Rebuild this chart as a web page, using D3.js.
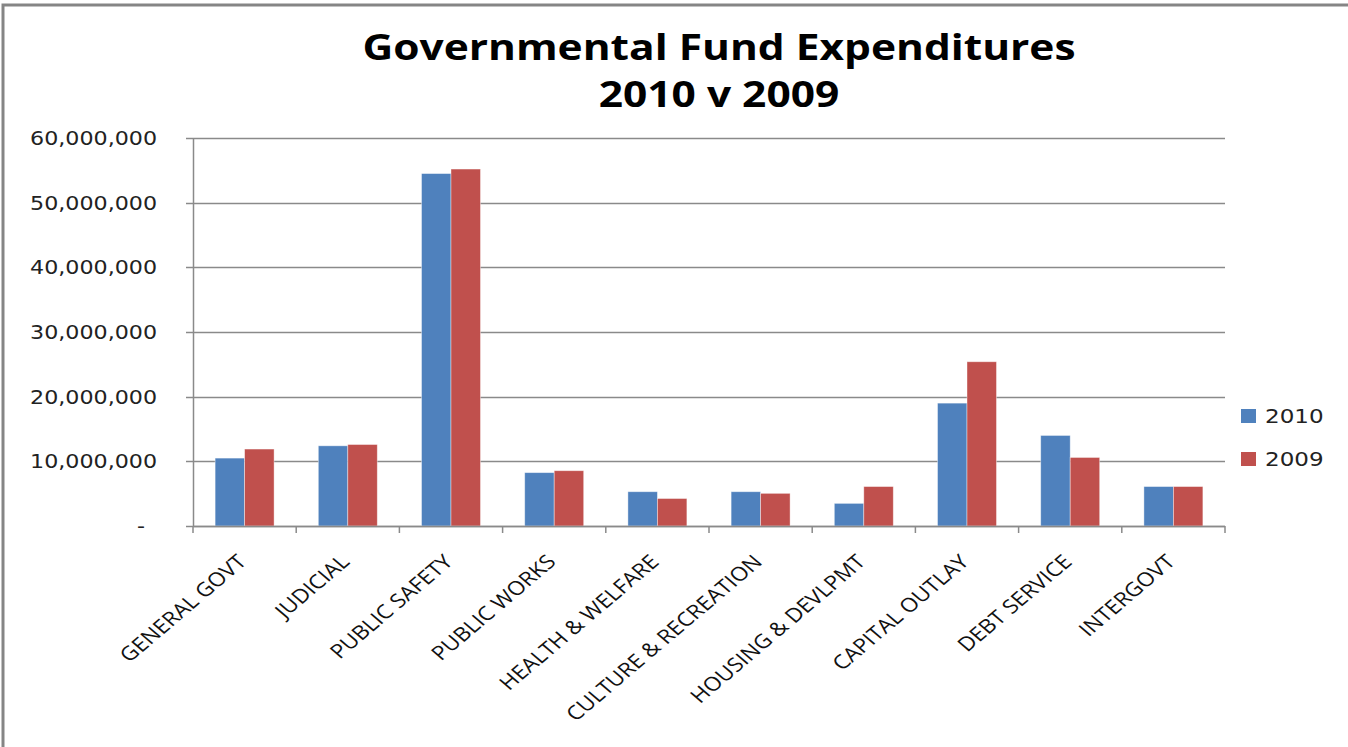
<!DOCTYPE html>
<html>
<head>
<meta charset="utf-8">
<script src="https://cdn.jsdelivr.net/npm/d3@7"></script>
<style>
  body { margin: 0; background: #fff; }
  svg { display: block; }
</style>
</head>
<body>
<div id="chart"></div>
<script>
const width = 1348;
const height = 747;

const categories = ["GENERAL GOVT", "JUDICIAL", "PUBLIC SAFETY", "PUBLIC WORKS", "HEALTH & WELFARE",
    "CULTURE & RECREATION", "HOUSING & DEVLPMT", "CAPITAL OUTLAY", "DEBT SERVICE", "INTERGOVT"];
const values2010 = [10500000, 12400000, 54500000, 8250000, 5300000, 5300000, 3500000, 19000000, 14000000, 6100000];
const values2009 = [11900000, 12600000, 55200000, 8550000, 4250000, 5050000, 6100000, 25400000, 10600000, 6100000];
const seriesNames = ["2010", "2009"];
const seriesColors = ["#4F81BD", "#C0504D"];
const yTicks = [0, 10000000, 20000000, 30000000, 40000000, 50000000, 60000000];

const margin = {top: 138, left: 193, right: 123, bottom: 221};
// the source picture is a bit wider than tall, so text gets the same stretch
const stretch = 1.18;

const svg = d3.select("#chart")
    .append("svg")
    .attr("width", width)
    .attr("height", height);

// chart border (only top and left are inside the picture)
svg.append("rect")
    .attr("x", 3)
    .attr("y", 5)
    .attr("width", width + 20)
    .attr("height", height + 20)
    .attr("fill", "none")
    .attr("stroke", "#858585")
    .attr("stroke-width", 3);

const x = d3.scaleBand()
    .domain(categories)
    .range([margin.left, width - margin.right]);

const xInner = d3.scaleBand()
    .domain(seriesNames)
    .range([0, x.bandwidth()])
    .paddingInner(0)
    .paddingOuter(0.75);

const y = d3.scaleLinear()
    .domain([0, 60000000])
    .range([height - margin.bottom, margin.top]);

// gridlines
svg.append("g")
    .selectAll("line")
    .data(yTicks)
    .join("line")
    .attr("x1", margin.left - 7)
    .attr("x2", width - margin.right)
    .attr("y1", d => Math.round(y(d)) + 0.5)
    .attr("y2", d => Math.round(y(d)) + 0.5)
    .attr("stroke", "#8a8a8a")
    .attr("stroke-width", 1.3);

// y axis
svg.append("line")
    .attr("x1", margin.left + 0.5)
    .attr("x2", margin.left + 0.5)
    .attr("y1", y(60000000))
    .attr("y2", y(0))
    .attr("stroke", "#8a8a8a")
    .attr("stroke-width", 1.5);

const yFormat = d3.format(",");
svg.append("g")
    .selectAll("text")
    .data(yTicks)
    .join("text")
    .attr("transform", d => `translate(${d === 0 ? 145 : 157},${y(d) + 7}) scale(${stretch},1)`)
    .attr("text-anchor", "end")
    .attr("font-family", "'DejaVu Sans', Verdana, sans-serif")
    .attr("font-size", 18.8)
    .attr("fill", "#222")
    .text(d => d === 0 ? "-" : yFormat(d));

// bars
const groups = svg.append("g")
    .selectAll("g")
    .data(categories.map((c, i) => ({cat: c, vals: [values2010[i], values2009[i]]})))
    .join("g")
    .attr("transform", d => `translate(${x(d.cat)},0)`);

groups.selectAll("rect")
    .data(d => d.vals.map((v, j) => ({series: seriesNames[j], value: v, color: seriesColors[j]})))
    .join("rect")
    .attr("x", d => xInner(d.series))
    .attr("width", xInner.bandwidth())
    .attr("y", d => y(d.value))
    .attr("height", d => y(0) - y(d.value))
    .attr("fill", d => d.color)
    .attr("stroke", "#ffffff")
    .attr("stroke-opacity", 0.5)
    .attr("stroke-width", 0.8);

// x axis
const xAxis = svg.append("g")
    .attr("transform", `translate(0,${height - margin.bottom})`);

xAxis.append("line")
    .attr("x1", margin.left)
    .attr("x2", width - margin.right)
    .attr("y1", 0.5)
    .attr("y2", 0.5)
    .attr("stroke", "#8a8a8a")
    .attr("stroke-width", 1.5);

const boundaries = categories.map(c => x(c)).concat([width - margin.right]);
xAxis.selectAll("line.tick")
    .data(boundaries)
    .join("line")
    .attr("class", "tick")
    .attr("x1", d => d)
    .attr("x2", d => d)
    .attr("y1", 0)
    .attr("y2", 7)
    .attr("stroke", "#8a8a8a")
    .attr("stroke-width", 1.5);

xAxis.selectAll("text")
    .data(categories)
    .join("text")
    .attr("transform", d => `translate(${x(d) + x.bandwidth() / 2 + 3},37) scale(${stretch},1) rotate(-45)`)
    .attr("text-anchor", "end")
    .attr("font-family", "'Open Sans', sans-serif")
    .attr("font-size", 19.5)
    .attr("fill", "#111")
    .text(d => d);

// title
const title = svg.append("g")
    .attr("transform", `translate(719,0) scale(${stretch},1)`)
    .append("text")
    .attr("text-anchor", "middle")
    .attr("font-family", "'Open Sans', sans-serif")
    .attr("font-weight", "bold")
    .attr("font-size", 36)
    .attr("fill", "#000");
title.append("tspan").attr("x", 0).attr("y", 60).text("Governmental Fund Expenditures");
title.append("tspan").attr("x", 0).attr("y", 107).text("2010 v 2009");

// legend
const legend = svg.append("g")
    .selectAll("g")
    .data(seriesNames)
    .join("g")
    .attr("transform", (d, i) => `translate(1241,${409 + i * 43})`);

legend.append("rect")
    .attr("width", 15)
    .attr("height", 14)
    .attr("fill", (d, i) => seriesColors[i]);

legend.append("text")
    .attr("transform", `translate(24,14) scale(${stretch},1)`)
    .attr("font-family", "'DejaVu Sans', Verdana, sans-serif")
    .attr("font-size", 19.5)
    .attr("fill", "#222")
    .text(d => d);
</script>
</body>
</html>
